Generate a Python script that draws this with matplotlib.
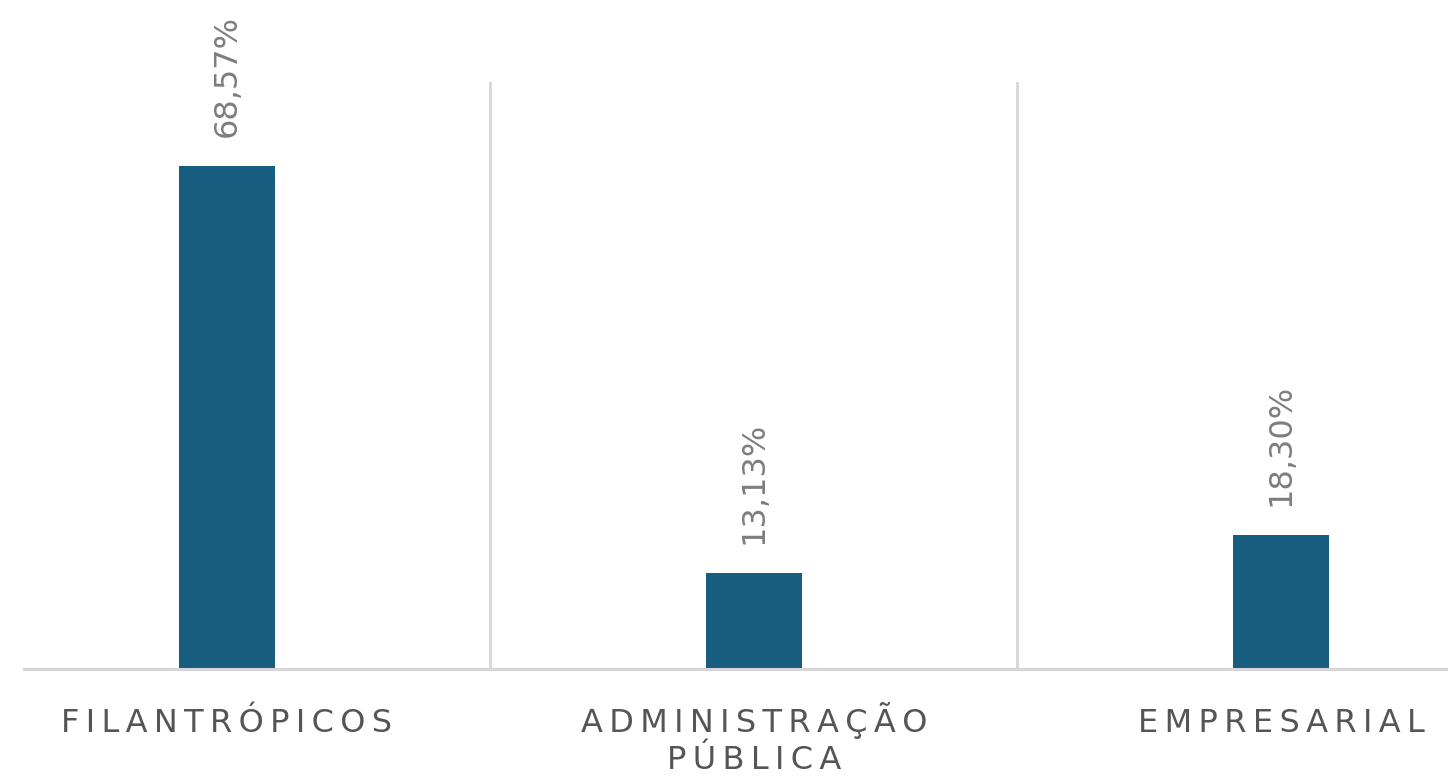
import matplotlib
matplotlib.use("Agg")
from matplotlib import pyplot as plt

# Dados do gráfico
categorias = ["FILANTRÓPICOS", "ADMINISTRAÇÃO\nPÚBLICA", "EMPRESARIAL"]
valores = [68.57, 13.13, 18.30]

cor_barra = "#175d80"
cor_linha = "#d6d6d6"


def espacar(linha, sep="\u2009"):
    # simula o espaçamento entre letras
    return sep.join(linha)


fig = plt.figure(figsize=(14.48, 7.77), dpi=100)
ax = fig.add_axes([24 / 1448, 108 / 777, 1 - 24 / 1448, 587 / 777])

x = list(range(len(categorias)))
ax.bar(x, valores, width=0.182, color=cor_barra, zorder=3)

for i, v in zip(x, valores):
    rotulo = f"{v:.2f}%".replace(".", ",")
    ax.annotate(rotulo, xy=(i, v), xytext=(0, 29), textcoords="offset pixels",
                rotation=90, ha="center", va="bottom", fontsize=23,
                color="#7d7d7d")

# rótulos das categorias (uma linha de cada vez)
for i, c in zip(x, categorias):
    for k, linha in enumerate(c.split("\n")):
        ax.annotate(espacar(linha), xy=(i, 0), xytext=(0, -63 - 37 * k),
                    textcoords="offset pixels", ha="center", va="baseline",
                    fontsize=23, color="#555555", annotation_clip=False)

# separadores verticais entre categorias
for s in [0.5, 1.5]:
    ax.axvline(s, color=cor_linha, lw=2, zorder=1)

ax.set_xlim(-0.385, 2.317)
ax.set_ylim(0, 80)

for lado in ["top", "right", "left"]:
    ax.spines[lado].set_visible(False)
ax.spines["bottom"].set_color(cor_linha)
ax.spines["bottom"].set_linewidth(2.2)
ax.spines["bottom"].set_zorder(4)

ax.set_yticks([])
ax.set_xticks([])

fig.savefig("out.png", dpi=100)
